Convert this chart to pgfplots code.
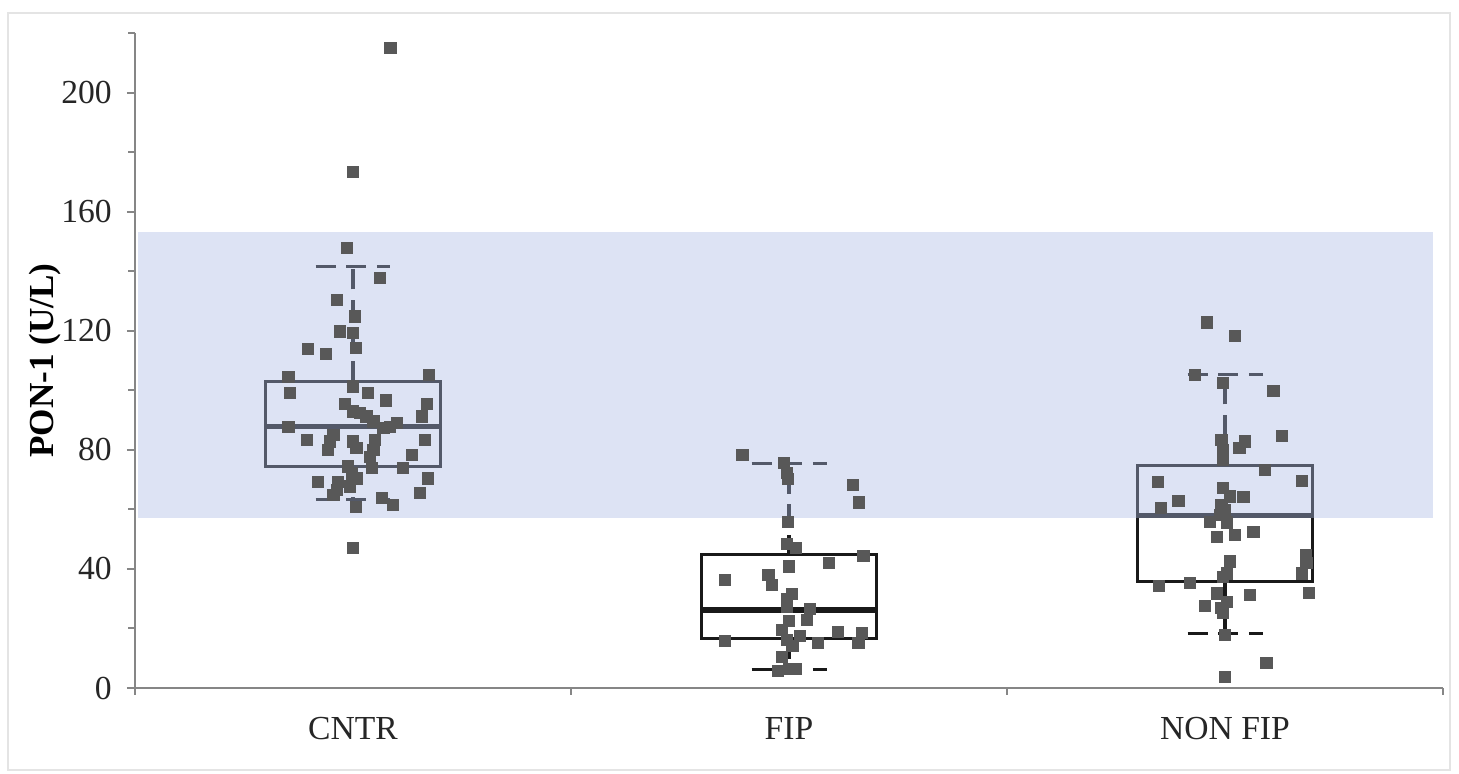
\documentclass[border=0pt]{standalone}
\usepackage{pgfplots}
\pgfplotsset{compat=1.18}
\usepackage{fontspec}
\setmainfont{Liberation Serif}
\definecolor{axisc}{RGB}{134,134,134}
\definecolor{ptc}{RGB}{88,88,88}
\definecolor{bandc}{RGB}{170,185,227}
\definecolor{framec}{RGB}{228,228,228}
\definecolor{boxc}{RGB}{25,25,25}
\begin{document}
\begin{tikzpicture}
\begin{axis}[
  scale only axis,
  width=209.28mm, height=104.8mm,
  xmin=-0.5, xmax=2.5, ymin=0, ymax=220,
  axis lines=left,
  axis line style={axisc, line width=0.9pt, -},
  xtick={0,1,2},
  xticklabels={CNTR,FIP,NON FIP},
  minor xtick={-0.5,0.5,1.5,2.5},
  ytick={0,40,80,120,160,200},
  minor ytick={20,60,100,140,180,220},
  tick align=outside,
  tick style={axisc, line width=0.9pt},
  major tick length=1.28mm,
  minor tick length=1.1mm,
  major x tick style={draw=none},
  /pgf/number format/assume math mode=true,
  tick label style={font=\fontsize{15.3}{18}\selectfont, text=black!85},
  yticklabel style={anchor=east, xshift=-1.2mm},
  xticklabel style={anchor=base, yshift=-6.9mm},
  ylabel={\textbf{PON-1 (U/L)}},
  ylabel style={font=\fontsize{16}{19}\selectfont, at={(axis description cs:0,0.5)}, anchor=center, yshift=14.4mm},
  clip=false,
]
% ---- points ----
\addplot[only marks, mark=square*, mark size=0.9mm, color=ptc, mark options={draw=ptc, fill=ptc}] coordinates {
(0.086,215.0) (0.000,173.3) (-0.014,147.8) (0.062,137.7) (-0.037,130.4) (0.005,124.8)
(-0.030,119.8) (0.000,119.2) (-0.103,113.8) (-0.062,112.3) (0.007,114.2) (-0.148,104.6)
(0.175,105.2) (0.000,101.3) (-0.145,99.1) (0.035,99.1) (0.076,96.6) (0.169,95.5)
(-0.018,95.5) (0.158,91.2) (0.000,92.9) (0.016,92.3) (0.031,91.2) (0.047,89.5)
(0.085,87.8) (0.100,89.0) (-0.148,87.8) (0.070,87.3) (-0.106,83.4) (-0.045,85.0)
(-0.053,82.8) (0.000,82.8) (0.050,83.4) (0.165,83.4) (-0.057,80.0) (0.008,80.6)
(0.047,80.0) (0.135,78.3) (0.039,77.7) (-0.011,74.4) (0.043,73.8) (0.114,73.8)
(-0.003,72.1) (0.008,70.4) (-0.080,69.3) (-0.034,69.3) (0.172,70.4) (-0.007,67.7)
(-0.037,66.6) (0.154,65.6) (-0.045,64.9) (0.066,63.8) (0.092,61.5) (0.007,60.9)
(0.000,47.0)
(0.893,78.3) (0.989,75.5) (0.995,72.2) (0.997,70.2) (1.147,68.2) (1.161,62.3)
(0.997,55.9) (0.995,48.4) (1.016,47.0) (1.171,44.4) (1.092,42.1) (1.000,40.8)
(0.853,36.3) (0.953,38.0) (0.960,34.6) (1.006,31.6) (0.996,29.8) (0.995,27.3)
(1.048,26.5) (1.041,22.9) (1.000,22.6) (0.983,19.5) (1.113,18.9) (1.167,18.4)
(1.025,17.5) (0.853,15.9) (0.995,16.1) (1.066,15.2) (1.159,15.2) (1.008,14.1)
(0.983,10.5) (0.975,5.8) (1.000,6.3) (1.016,6.3)
(1.959,122.8) (2.023,118.3) (1.931,105.2) (1.996,102.4) (2.111,99.9) (2.130,84.7)
(1.992,83.4) (2.046,82.8) (2.033,80.6) (1.995,80.0) (1.996,76.6) (2.092,73.3)
(1.847,69.3) (2.176,69.6) (1.995,67.1) (1.893,62.9) (2.042,64.1) (2.011,64.3)
(1.853,60.4) (1.992,61.5) (2.000,59.8) (1.989,58.2) (1.966,55.9) (2.004,55.6)
(2.023,51.4) (1.981,50.7) (2.065,52.5) (2.011,42.5) (2.185,44.7) (2.187,41.9)
(2.176,38.5) (2.004,38.5) (1.849,34.3) (1.920,35.4) (1.996,37.4) (1.981,31.8)
(2.057,31.3) (2.193,32.0) (1.954,27.6) (2.004,29.0) (1.996,25.1) (1.992,26.8)
(2.000,17.8) (2.095,8.3) (2.000,3.6)
};
% ---- boxes ----
\addplot[boxc, line width=1.3pt, line join=miter] coordinates {(-0.2,74.4) (0.2,74.4) (0.2,103.0) (-0.2,103.0)} -- cycle;
\addplot[boxc, line width=2.3pt] coordinates {(-0.2,87.8) (0.2,87.8)};
\addplot[boxc, line width=1.3pt, line join=miter] coordinates {(0.8,16.5) (1.2,16.5) (1.2,44.7) (0.8,44.7)} -- cycle;
\addplot[boxc, line width=2.3pt] coordinates {(0.8,26.2) (1.2,26.2)};
\addplot[boxc, line width=1.3pt, line join=miter] coordinates {(1.8,35.7) (2.2,35.7) (2.2,74.7) (1.8,74.7)} -- cycle;
\addplot[boxc, line width=2.3pt] coordinates {(1.8,57.9) (2.2,57.9)};
% ---- whiskers ----
\pgfplotsset{whisk/.style={boxc, line width=1.5pt, dash pattern=on 3.2mm off 1.7mm}}
\addplot[whisk] coordinates {(0,103.0) (0,141.6)};
\addplot[whisk] coordinates {(0,74.4) (0,63.2)};
\addplot[whisk] coordinates {(-0.086,141.6) (0.086,141.6)};
\addplot[whisk] coordinates {(-0.086,63.2) (0.086,63.2)};
\addplot[whisk] coordinates {(1,44.7) (1,75.3)};
\addplot[whisk] coordinates {(1,16.5) (1,6.3)};
\addplot[whisk] coordinates {(0.914,75.3) (1.086,75.3)};
\addplot[whisk] coordinates {(0.914,6.3) (1.086,6.3)};
\addplot[whisk] coordinates {(2,74.7) (2,105.2)};
\addplot[whisk] coordinates {(2,35.7) (2,18.4)};
\addplot[whisk] coordinates {(1.914,105.2) (2.086,105.2)};
\addplot[whisk] coordinates {(1.914,18.4) (2.086,18.4)};
% ---- reference band (semi-transparent, on top) ----
\addplot[draw=none, fill=bandc, fill opacity=0.4] coordinates {(-0.493,57) (2.477,57) (2.477,153) (-0.493,153)} -- cycle;
\end{axis}
\pgfresetboundingbox
\useasboundingbox (-21.6mm,-13.6mm) rectangle (211.84mm,110.08mm);
\draw[framec, line width=0.8pt] (-20.32mm,-13.12mm) rectangle (210.4mm,108mm);
\end{tikzpicture}
\end{document}
